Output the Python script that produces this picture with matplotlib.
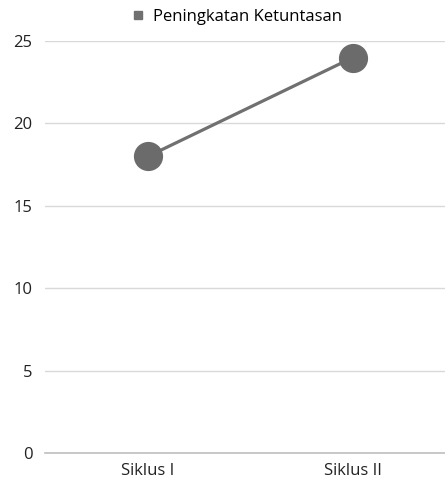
import matplotlib
matplotlib.use("Agg")
import matplotlib.pyplot as plt
from matplotlib.lines import Line2D

categories = ["Siklus I", "Siklus II"]
ketuntasan = [18, 24]
yticks = [0, 5, 10, 15, 20, 25]
series_label = "Peningkatan Ketuntasan"

plt.rcParams["font.family"] = ["Open Sans", "DejaVu Sans"]

fig = plt.figure(figsize=(4.45, 4.83), dpi=100)
ax = fig.add_axes([0.101, 0.062, 0.899, 0.853])

x = list(range(len(categories)))
ax.plot(x, ketuntasan, color="#707070", lw=2.3, marker="o", ms=20,
        markerfacecolor="#6b6b6b", markeredgecolor="#6b6b6b", zorder=3)

ax.set_xlim(-0.502, 1.449)
ax.set_ylim(0, 25)
ax.set_yticks(yticks)
ax.set_xticks(x)
ax.set_xticklabels(categories)
ax.grid(axis="y", color="#d9d9d9", lw=1)
ax.set_axisbelow(True)
for side in ("top", "right", "left"):
    ax.spines[side].set_visible(False)
ax.spines["bottom"].set_color("#bfbfbf")
ax.spines["bottom"].set_linewidth(1.2)
ax.tick_params(axis="both", length=0, labelsize=12, colors="#222222")
ax.tick_params(axis="y", pad=9)
ax.tick_params(axis="x", pad=7)

handle = Line2D([], [], ls="none", marker="s", ms=6, color="#707070")
fig.legend([handle], [series_label], loc="upper center",
           bbox_to_anchor=(0.53, 1.012), frameon=False, fontsize=12,
           handletextpad=0.4, handlelength=1.0)

fig.savefig("out.png", dpi=100)
